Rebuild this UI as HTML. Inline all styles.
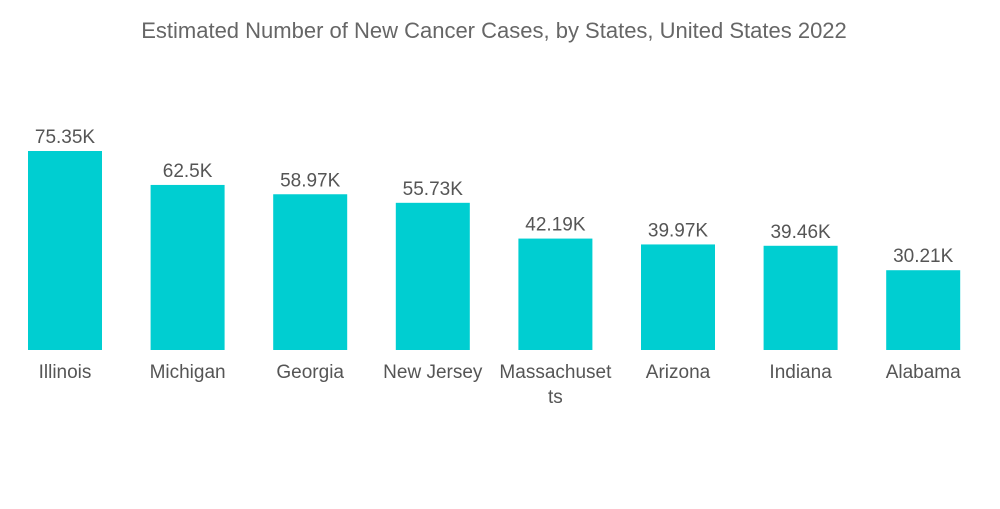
<!DOCTYPE html>
<html><head><meta charset="utf-8"><style>
body{margin:0;background:#fff;}
svg text{font-family:"Liberation Sans",sans-serif;}
</style></head><body>
<svg id="chart" width="1000" height="504">
<text x="494" y="38" text-anchor="middle" font-size="22" fill="#666">Estimated Number of New Cancer Cases, by States, United States 2022</text>
<g id="bars"></g>
</svg>
<script>
const categories=["Illinois","Michigan","Georgia","New Jersey","Massachusetts","Arizona","Indiana","Alabama"];
const values=[75.35,62.5,58.97,55.73,42.19,39.97,39.46,30.21];
const valueLabels=["75.35K","62.5K","58.97K","55.73K","42.19K","39.97K","39.46K","30.21K"];
const baseY=350, pxPerUnit=199/75.35, x0=65, step=122.6, bw=74;
function yScale(v){return baseY-v*pxPerUnit;}
function xScale(i){return x0+i*step;}
const g=document.getElementById('bars');
const ns="http://www.w3.org/2000/svg";
categories.forEach((c,i)=>{
  const cx=xScale(i), y=yScale(values[i]);
  const r=document.createElementNS(ns,'rect');
  r.setAttribute('x',cx-bw/2);r.setAttribute('y',y);r.setAttribute('width',bw);r.setAttribute('height',baseY-y);r.setAttribute('fill','#00CED1');
  
  
  g.appendChild(r);
  const t=document.createElementNS(ns,'text');
  t.setAttribute('x',cx);t.setAttribute('y',y-8);t.setAttribute('text-anchor','middle');t.setAttribute('font-size','19');t.setAttribute('fill','#555');
  t.textContent=valueLabels[i];
  
  
  g.appendChild(t);
  const lines=c==="Massachusetts"?["Massachuset","ts"]:[c];
  lines.forEach((ln,k)=>{
    const l=document.createElementNS(ns,'text');
    l.setAttribute('x',cx);l.setAttribute('y',378+k*25);l.setAttribute('text-anchor','middle');l.setAttribute('font-size','19');l.setAttribute('fill','#555');
    l.textContent=ln;
    
    
    g.appendChild(l);
  });
});
</script>
</body></html>
